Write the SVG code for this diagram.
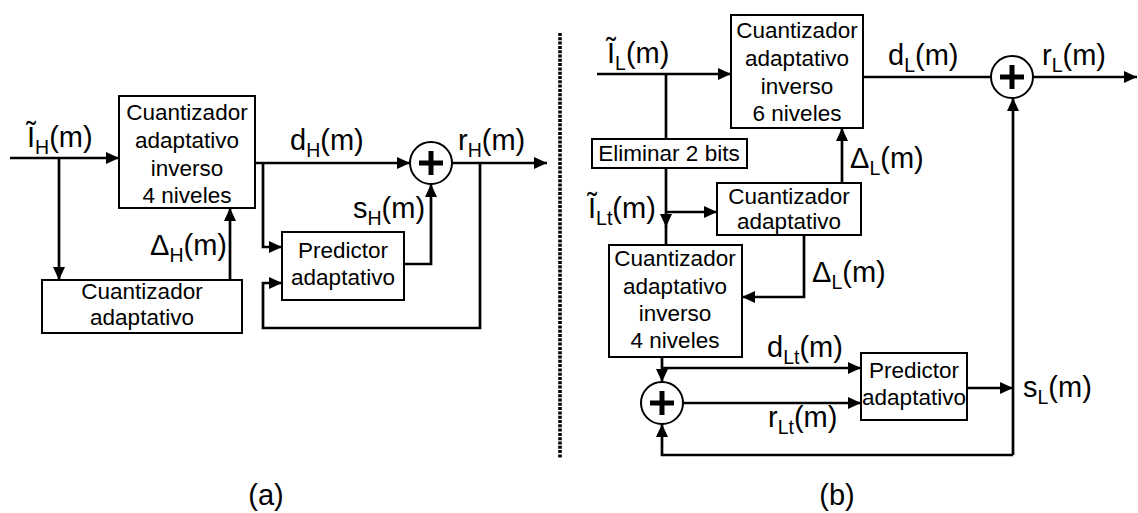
<svg xmlns="http://www.w3.org/2000/svg" width="1138" height="513" viewBox="0 0 1138 513">
<defs>
<marker id="arr" markerUnits="userSpaceOnUse" markerWidth="14" markerHeight="12" refX="13" refY="6" orient="auto">
<path d="M0,0 L13,6 L0,12 z" fill="#000"/>
</marker>
<style>
.box{fill:#fff;stroke:#000;stroke-width:2}
.bt{font-family:"Liberation Sans",Arial,sans-serif;font-size:22.5px;text-anchor:middle;fill:#000}
.lb{font-family:"Liberation Sans",Arial,sans-serif;font-size:29px;fill:#000}
.sub{font-size:19.5px}
.ln{fill:none;stroke:#000;stroke-width:2.7}
.ar{fill:none;stroke:#000;stroke-width:2.7;marker-end:url(#arr)}
.sum{fill:#fff;stroke:#000;stroke-width:2}
.plus{stroke:#000;stroke-width:5}
</style>
</defs>
<rect width="1138" height="513" fill="#fff"/>

<g id="connectors">
<!-- (a) -->
<path class="ar" d="M10,158 H119"/>
<path class="ar" d="M59,158 V280"/>
<path class="ar" d="M230,280 V208"/>
<path class="ar" d="M255,163 H410"/>
<path class="ar" d="M263,163 V247 H282"/>
<path class="ar" d="M404,264 H431 V184"/>
<path class="ar" d="M452,163 H547"/>
<path class="ar" d="M480,163 V328 H263 V283 H282"/>
<!-- divider -->
<line x1="560" y1="33" x2="560" y2="458" stroke="#000" stroke-width="3.6" stroke-dasharray="3 1.3"/>
<!-- (b) -->
<path class="ar" d="M597,74 H731"/>
<path class="ln" d="M666,74 V139"/>
<path class="ar" d="M666,168 V227"/>
<path class="ln" d="M666,226 V245"/>
<path class="ar" d="M666,212 H717"/>
<path class="ar" d="M842,183 V128"/>
<path class="ln" d="M863,77 H991"/>
<path class="ar" d="M1033,77 H1137"/>
<path class="ar" d="M804,235 V297 H742"/>
<path class="ar" d="M662,357 V382"/>
<path class="ar" d="M662,368 H861"/>
<path class="ar" d="M683,403 H861"/>
<path class="ar" d="M967,388 H1013"/>
<path class="ar" d="M1013,455 V98"/>
<path class="ar" d="M1013,455 H662 V424"/>
</g>

<g id="a_cuant_inv">
<rect class="box" x="119" y="96" width="136" height="112"/>
<text class="bt" x="187" y="120">Cuantizador</text>
<text class="bt" x="187" y="148">adaptativo</text>
<text class="bt" x="187" y="176">inverso</text>
<text class="bt" x="187" y="203">4 niveles</text>
</g>
<g id="a_cuant">
<rect class="box" x="42" y="280" width="200" height="53"/>
<text class="bt" x="142" y="299">Cuantizador</text>
<text class="bt" x="142" y="325">adaptativo</text>
</g>
<g id="a_pred">
<rect class="box" x="282" y="232" width="122" height="68"/>
<text class="bt" x="343" y="258">Predictor</text>
<text class="bt" x="343" y="285">adaptativo</text>
</g>
<g id="a_sum">
<circle class="sum" cx="431" cy="163" r="21"/>
<path class="plus" d="M419,163 H443 M431,151 V175"/>
</g>

<g id="b_cuant_inv6">
<rect class="box" x="731" y="15" width="132" height="113"/>
<text class="bt" x="797" y="38">Cuantizador</text>
<text class="bt" x="797" y="66">adaptativo</text>
<text class="bt" x="797" y="94">inverso</text>
<text class="bt" x="797" y="121">6 niveles</text>
</g>
<g id="b_elim">
<rect class="box" x="592" y="139" width="155" height="29"/>
<text class="bt" x="669" y="161">Eliminar 2 bits</text>
</g>
<g id="b_cuant">
<rect class="box" x="717" y="183" width="144" height="52"/>
<text class="bt" x="789" y="204">Cuantizador</text>
<text class="bt" x="789" y="229">adaptativo</text>
</g>
<g id="b_cuant_inv4">
<rect class="box" x="609" y="245" width="133" height="112"/>
<text class="bt" x="675" y="266">Cuantizador</text>
<text class="bt" x="675" y="294">adaptativo</text>
<text class="bt" x="675" y="321">inverso</text>
<text class="bt" x="675" y="348">4 niveles</text>
</g>
<g id="b_pred">
<rect class="box" x="861" y="353" width="106" height="67"/>
<text class="bt" x="914" y="378">Predictor</text>
<text class="bt" x="914" y="405">adaptativo</text>
</g>
<g id="b_sum_top">
<circle class="sum" cx="1012" cy="77" r="21"/>
<path class="plus" d="M1000,77 H1024 M1012,65 V89"/>
</g>
<g id="b_sum_low">
<circle class="sum" cx="662" cy="403" r="21"/>
<path class="plus" d="M650,403 H674 M662,391 V415"/>
</g>

<g id="labels">
<text class="lb" x="27" y="147">Ĩ<tspan class="sub" dy="7">H</tspan><tspan dy="-7">(m)</tspan></text>
<text class="lb" x="290" y="150">d<tspan class="sub" dy="7">H</tspan><tspan dy="-7">(m)</tspan></text>
<text class="lb" x="458" y="150">r<tspan class="sub" dy="7">H</tspan><tspan dy="-7">(m)</tspan></text>
<text class="lb" x="353" y="218">s<tspan class="sub" dy="7">H</tspan><tspan dy="-7">(m)</tspan></text>
<text class="lb" x="150" y="255">Δ<tspan class="sub" dy="7">H</tspan><tspan dy="-7">(m)</tspan></text>
<text class="lb" x="607" y="63">Ĩ<tspan class="sub" dy="7">L</tspan><tspan dy="-7">(m)</tspan></text>
<text class="lb" x="888" y="65">d<tspan class="sub" dy="7">L</tspan><tspan dy="-7">(m)</tspan></text>
<text class="lb" x="1042" y="65">r<tspan class="sub" dy="7">L</tspan><tspan dy="-7">(m)</tspan></text>
<text class="lb" x="850" y="168">Δ<tspan class="sub" dy="7">L</tspan><tspan dy="-7">(m)</tspan></text>
<text class="lb" x="588" y="218">Ĩ<tspan class="sub" dy="7">Lt</tspan><tspan dy="-7">(m)</tspan></text>
<text class="lb" x="812" y="282">Δ<tspan class="sub" dy="7">L</tspan><tspan dy="-7">(m)</tspan></text>
<text class="lb" x="767" y="357">d<tspan class="sub" dy="7">Lt</tspan><tspan dy="-7">(m)</tspan></text>
<text class="lb" x="768" y="427">r<tspan class="sub" dy="7">Lt</tspan><tspan dy="-7">(m)</tspan></text>
<text class="lb" x="1023" y="397">s<tspan class="sub" dy="7">L</tspan><tspan dy="-7">(m)</tspan></text>
<text class="lb" x="266" y="505" text-anchor="middle">(a)</text>
<text class="lb" x="837" y="505" text-anchor="middle">(b)</text>
</g>
</svg>
